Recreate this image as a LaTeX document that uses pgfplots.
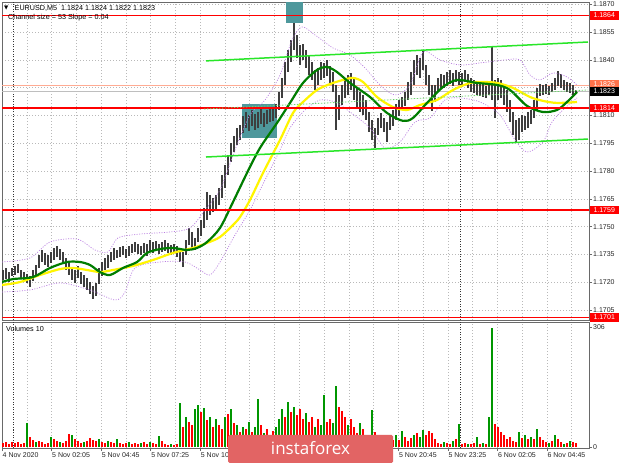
\documentclass[border=0pt]{standalone}
\usepackage{pgfplots}
\pgfplotsset{compat=1.18}
\usepackage{pgfplotstable}
\usepackage{fontspec}
\setmainfont{Liberation Sans}
\newfontfamily\symfont{DejaVu Sans}
\newfontfamily\wmfont{Open Sans}
\definecolor{gridc}{RGB}{185,185,185}
\definecolor{framec}{RGB}{105,105,105}
\definecolor{barc}{RGB}{62,62,62}
\definecolor{maG}{RGB}{0,125,0}
\definecolor{maY}{RGB}{255,245,0}
\definecolor{chan}{RGB}{40,230,40}
\definecolor{envc}{RGB}{185,125,225}
\definecolor{boxc}{RGB}{78,152,156}
\definecolor{salmonc}{RGB}{255,115,75}
\definecolor{bidc}{RGB}{190,190,190}
\definecolor{volG}{RGB}{0,150,0}
\definecolor{volR}{RGB}{255,0,0}
\definecolor{wmc}{RGB}{226,100,100}
\definecolor{midc}{RGB}{110,215,110}

\pgfplotstableread{
x h l
3 1.17266 1.17212
6 1.17277 1.17218
9 1.17256 1.17202
12 1.17277 1.17234
15 1.17288 1.17239
18 1.17299 1.17250
21 1.17266 1.17223
24 1.17256 1.17212
27 1.17245 1.17196
30 1.17234 1.17175
33 1.17266 1.17207
36 1.17293 1.17234
39 1.17347 1.17277
42 1.17374 1.17310
45 1.17358 1.17293
48 1.17347 1.17283
51 1.17364 1.17304
54 1.17385 1.17320
57 1.17396 1.17337
60 1.17380 1.17320
63 1.17364 1.17299
66 1.17331 1.17266
69 1.17310 1.17239
72 1.17277 1.17212
75 1.17266 1.17196
78 1.17288 1.17223
81 1.17256 1.17191
84 1.17239 1.17175
87 1.17223 1.17158
90 1.17202 1.17137
93 1.17180 1.17110
96 1.17196 1.17126
99 1.17277 1.17191
102 1.17310 1.17234
105 1.17331 1.17266
108 1.17347 1.17277
111 1.17364 1.17310
114 1.17385 1.17320
117 1.17374 1.17331
120 1.17391 1.17337
123 1.17396 1.17347
126 1.17380 1.17331
129 1.17396 1.17342
132 1.17407 1.17358
135 1.17418 1.17364
138 1.17407 1.17353
141 1.17396 1.17347
144 1.17412 1.17358
147 1.17407 1.17342
150 1.17428 1.17364
153 1.17418 1.17358
156 1.17423 1.17369
159 1.17407 1.17353
162 1.17418 1.17364
165 1.17428 1.17369
168 1.17412 1.17358
171 1.17401 1.17347
174 1.17407 1.17358
177 1.17396 1.17337
180 1.17380 1.17310
183 1.17364 1.17283
186 1.17428 1.17347
189 1.17493 1.17401
192 1.17471 1.17385
195 1.17439 1.17374
198 1.17493 1.17418
201 1.17536 1.17450
204 1.17601 1.17493
207 1.17688 1.17536
210 1.17671 1.17563
213 1.17655 1.17580
216 1.17671 1.17590
219 1.17709 1.17617
222 1.17779 1.17655
225 1.17833 1.17709
228 1.17887 1.17779
231 1.17952 1.17850
234 1.17990 1.17904
237 1.18033 1.17941
240 1.18049 1.17968
243 1.18098 1.18006
246 1.18120 1.18033
249 1.18103 1.18017
252 1.18130 1.18044
255 1.18109 1.18022
258 1.18120 1.18033
261 1.18136 1.18055
264 1.18114 1.18039
267 1.18130 1.18055
270 1.18141 1.18066
273 1.18136 1.18071
276 1.18163 1.18087
279 1.18228 1.18130
282 1.18303 1.18195
285 1.18390 1.18265
288 1.18454 1.18336
291 1.18508 1.18390
294 1.18600 1.18454
297 1.18535 1.18411
300 1.18481 1.18373
303 1.18487 1.18400
306 1.18454 1.18357
309 1.18427 1.18319
312 1.18390 1.18292
315 1.18346 1.18238
318 1.18357 1.18265
321 1.18390 1.18292
324 1.18384 1.18303
327 1.18400 1.18314
330 1.18368 1.18271
333 1.18336 1.18228
336 1.18265 1.18022
339 1.18211 1.18076
342 1.18265 1.18157
345 1.18292 1.18195
348 1.18319 1.18211
351 1.18330 1.18238
354 1.18303 1.18184
357 1.18249 1.18141
360 1.18228 1.18120
363 1.18211 1.18103
366 1.18184 1.18076
369 1.18120 1.18012
372 1.18076 1.17968
375 1.18033 1.17925
378 1.18087 1.17995
381 1.18114 1.18033
384 1.18087 1.18012
387 1.18066 1.17958
390 1.18103 1.18022
393 1.18130 1.18044
396 1.18163 1.18076
399 1.18184 1.18098
402 1.18201 1.18130
405 1.18228 1.18152
408 1.18282 1.18184
411 1.18336 1.18211
414 1.18400 1.18265
417 1.18427 1.18319
420 1.18411 1.18303
423 1.18454 1.18346
426 1.18373 1.18265
429 1.18319 1.18211
432 1.18265 1.18125
435 1.18265 1.18174
438 1.18303 1.18228
441 1.18325 1.18249
444 1.18319 1.18249
447 1.18336 1.18260
450 1.18346 1.18271
453 1.18330 1.18260
456 1.18346 1.18282
459 1.18336 1.18265
462 1.18330 1.18255
465 1.18346 1.18282
468 1.18325 1.18249
471 1.18303 1.18228
474 1.18292 1.18222
477 1.18282 1.18211
480 1.18271 1.18206
483 1.18276 1.18201
486 1.18260 1.18195
489 1.18282 1.18211
492 1.18471 1.18184
495 1.18292 1.18087
498 1.18303 1.18184
501 1.18292 1.18195
504 1.18265 1.18157
507 1.18238 1.18120
510 1.18184 1.18066
513 1.18120 1.17995
516 1.18076 1.17958
519 1.18087 1.17968
522 1.18103 1.18012
525 1.18098 1.18022
528 1.18120 1.18033
531 1.18130 1.18055
534 1.18184 1.18087
537 1.18249 1.18130
540 1.18271 1.18206
543 1.18265 1.18211
546 1.18271 1.18217
549 1.18260 1.18211
552 1.18276 1.18228
555 1.18303 1.18238
558 1.18341 1.18260
561 1.18325 1.18249
564 1.18292 1.18238
567 1.18282 1.18228
570 1.18276 1.18222
573 1.18265 1.18211
576 1.18240 1.18220
}\bars

\pgfplotsset{
 mtpane/.style={
  anchor=south west, at={(0pt,0pt)}, scale only axis, width=587pt,
  xmin=2, xmax=589,
  axis line style={framec, line width=0.8pt},
  clip mode=individual,
  xtick={2,51.5,101.1,150.6,200.2,249.7,299.2,348.8,398.3,447.9,497.4,546.9},
  minor xtick={26.8,76.3,125.9,175.4,224.9,274.5,324,373.6,423.1,472.6,522.2,571.7},
  xmajorgrids, xminorgrids,
  major grid style={gridc, line width=0.5pt, dash pattern=on 1pt off 2pt},
  minor grid style={gridc, line width=0.5pt, dash pattern=on 1pt off 2pt},
  ytick pos=right, yticklabel pos=right, xtick pos=bottom,
  tick align=outside, major tick length=3pt, minor tick length=0pt,
  tick style={framec, line width=0.6pt},
  ticklabel style={font=\fontsize{7}{8}\selectfont, text=black!85},
  yticklabel style={anchor=west, inner sep=1pt},
 },
}
\tikzset{lbl/.style={anchor=west, text=white, inner sep=0pt, minimum width=29pt, minimum height=8.5pt, font=\fontsize{7}{8}\selectfont}}

\begin{document}
\begin{tikzpicture}
\path[use as bounding box] (0pt,0pt) rectangle (620pt,465pt);
\fill[white] (0pt,0pt) rectangle (620pt,465pt);

% ---------------- price pane
\begin{scope}[shift={(2pt,145pt)}]
\begin{axis}[mtpane, height=318pt, ymin=1.16996, ymax=1.18713,
 ytick={1.1705,1.1720,1.1735,1.1750,1.1765,1.1780,1.1795,1.1810,1.1825,1.1840,1.1855,1.1870},
 yticklabels={1.1705,1.1720,1.1735,1.1750,1.1765,1.1780,1.1795,1.1810,{},1.1840,1.1855,1.1870},
 ymajorgrids, xticklabels={}, xtick style={draw=none}]
 % day separators
 \addplot[black!80, line width=0.6pt, dash pattern=on 1pt off 1.5pt] coordinates {(13,1.16996) (13,1.18713)};
 \addplot[black!80, line width=0.6pt, dash pattern=on 1pt off 1.5pt] coordinates {(460,1.16996) (460,1.18713)};
 % rectangles
 \addplot[fill=boxc, draw=none] coordinates {(242,1.17979) (277,1.17979) (277,1.18162) (242,1.18162)} -- cycle;
 \addplot[fill=boxc, draw=none] coordinates {(286,1.18600) (303,1.18600) (303,1.18713) (286,1.18713)} -- cycle;
 % bid line and salmon level
 \addplot[bidc, line width=0.7pt] coordinates {(2,1.1823) (589,1.1823)};
 \addplot[salmonc!60!white, line width=0.9pt] coordinates {(2,1.1826) (589,1.1826)};
 % price bars
 \addplot[barc, line width=1.85pt, quiver={u=0, v=\thisrow{h}-\thisrow{l}}] table[x=x, y=l] {\bars};
 % envelopes
 \addplot[envc, line width=0.7pt, dash pattern=on 1pt off 1.5pt, smooth, tension=0.5] coordinates {
 (2,1.17309) (30,1.17331) (50,1.17417) (77,1.17433) (95,1.17374) (108,1.17363) (118,1.17439) (140,1.17460) (170,1.17471) (190,1.17493) (205,1.17590) (220,1.17698) (235,1.17914) (250,1.18103) (265,1.18184) (280,1.18319) (292,1.18508) (302,1.18578) (315,1.18535) (333,1.18465) (350,1.18427) (365,1.18357) (380,1.18265) (395,1.18211) (410,1.18265) (423,1.18443) (440,1.18400) (460,1.18373) (480,1.18384) (505,1.18400) (520,1.18400) (530,1.18319) (540,1.18292) (553,1.18330) (567,1.18308) (577,1.18265)};
 \addplot[envc, line width=0.7pt, dash pattern=on 1pt off 1.5pt, smooth, tension=0.5] coordinates {
 (2,1.17147) (30,1.17158) (60,1.17196) (90,1.17158) (115,1.17104) (125,1.17147) (135,1.17277) (160,1.17309) (185,1.17309) (200,1.17266) (210,1.17239) (220,1.17309) (235,1.17455) (250,1.17590) (265,1.17752) (280,1.17914) (290,1.18033) (305,1.18130) (320,1.18184) (335,1.18173) (350,1.18119) (370,1.18033) (385,1.17925) (400,1.17957) (415,1.18065) (430,1.18087) (445,1.18184) (460,1.18195) (480,1.18173) (500,1.18103) (515,1.17968) (527,1.17903) (543,1.17957) (552,1.18065) (565,1.18141) (577,1.18195)};
 % moving averages
 \addplot[maY, line width=2.2pt, smooth, tension=0.5] coordinates {
 (2,1.17185) (20,1.17201) (40,1.17239) (60,1.17271) (73,1.17277) (87,1.17266) (100,1.17255) (113,1.17266) (133,1.17288) (153,1.17320) (173,1.17358) (193,1.17385) (207,1.17412) (220,1.17444) (233,1.17509) (240,1.17552) (250,1.17644) (263,1.17790) (280,1.17968) (293,1.18114) (303,1.18173) (317,1.18238) (330,1.18270) (343,1.18292) (353,1.18303) (363,1.18281) (377,1.18200) (393,1.18146) (407,1.18130) (420,1.18157) (437,1.18184) (453,1.18238) (470,1.18276) (483,1.18281) (497,1.18276) (513,1.18249) (530,1.18200) (543,1.18179) (557,1.18168) (577,1.18173)};
 \addplot[maG, line width=2.2pt, smooth, tension=0.5] coordinates {
 (2,1.17201) (13,1.17217) (33,1.17228) (50,1.17277) (67,1.17309) (80,1.17309) (90,1.17293) (100,1.17255) (110,1.17239) (123,1.17277) (137,1.17309) (147,1.17358) (160,1.17379) (173,1.17385) (187,1.17374) (197,1.17385) (207,1.17417) (220,1.17493) (233,1.17633) (247,1.17790) (260,1.17925) (277,1.18060) (290,1.18168) (303,1.18276) (317,1.18346) (327,1.18362) (337,1.18335) (350,1.18276) (370,1.18200) (387,1.18114) (403,1.18071) (413,1.18087) (427,1.18168) (443,1.18254) (457,1.18292) (477,1.18276) (497,1.18265) (510,1.18238) (527,1.18152) (543,1.18119) (557,1.18130) (567,1.18173) (577,1.18227)};
 % horizontal levels
 \addplot[red, line width=1.3pt] coordinates {(2,1.1864) (589,1.1864)};
 \addplot[red, line width=1.3pt] coordinates {(2,1.1814) (589,1.1814)};
 \addplot[red, line width=1.3pt] coordinates {(2,1.1759) (589,1.1759)};
 \addplot[red, line width=1.3pt] coordinates {(2,1.1701) (589,1.1701)};
 % channel
 \addplot[chan, line width=1.5pt] coordinates {(206,1.18395) (588,1.18497)};
 \addplot[chan, line width=1.5pt] coordinates {(206,1.17876) (588,1.17973)};
 \addplot[midc, line width=0.8pt, dash pattern=on 1.5pt off 1.5pt] coordinates {(204,1.18135) (588,1.18238)};
 % right-hand price labels
 \node[lbl, fill=red] at (axis cs:589.5,1.1864) {1.1864};
 \node[lbl, fill=salmonc] at (axis cs:589.5,1.18268) {1.1826};
 \node[lbl, fill=black] at (axis cs:589.5,1.1823) {1.1823};
 \node[lbl, fill=red] at (axis cs:589.5,1.1814) {1.1814};
 \node[lbl, fill=red] at (axis cs:589.5,1.1759) {1.1759};
 \node[lbl, fill=red] at (axis cs:589.5,1.1701) {1.1701};
\end{axis}
\end{scope}

% ---------------- volume pane
\begin{scope}[shift={(2pt,17pt)}]
\begin{axis}[mtpane, height=126pt, ymin=-2.5, ymax=319,
 ytick={0,306}, yticklabels={0,306},
 xticklabels={4 Nov 2020,5 Nov 02:05,5 Nov 04:45,5 Nov 07:25,5 Nov 10:05,5 Nov 12:45,5 Nov 15:25,5 Nov 18:05,5 Nov 20:45,5 Nov 23:25,6 Nov 02:05,6 Nov 04:45},
 xticklabel style={anchor=north west, inner sep=1pt, xshift=-0.5pt}]
 \addplot[black!80, line width=0.6pt, dash pattern=on 1pt off 1.5pt] coordinates {(13,-2.5) (13,319)};
 \addplot[black!80, line width=0.6pt, dash pattern=on 1pt off 1.5pt] coordinates {(460,-2.5) (460,319)};
 \addplot[volG, ycomb, line width=2.1pt] coordinates {
 (27,62) (36,13) (51,26) (60,13) (72,31) (84,13) (99,21) (108,15) (117,20) (129,13) (141,10) (150,13) (159,28) (171,8) (180,113) (186,77) (195,98) (198,108) (204,100) (210,77) (216,72) (225,77) (231,98) (237,56) (243,51) (249,64) (255,51) (258,123) (264,36) (270,31) (276,51) (279,72) (282,97) (288,115) (294,102) (306,87) (315,51) (321,56) (324,133) (333,62) (336,156) (348,56) (360,62) (369,26) (372,95) (378,20) (387,15) (396,31) (402,41) (414,31) (420,26) (423,44) (444,13) (453,15) (459,59) (468,8) (477,26) (483,10) (489,77) (492,303) (519,38) (525,31) (531,26) (537,46) (549,10) (555,31) (564,8) (570,15)};
 \addplot[volR, ycomb, line width=2.1pt] coordinates {
 (3,10) (6,12) (9,8) (12,14) (15,10) (18,12) (21,8) (24,11) (30,26) (33,18) (39,15) (42,13) (45,8) (48,10) (54,21) (57,15) (63,10) (66,15) (69,33) (75,21) (78,15) (81,10) (87,15) (90,23) (93,18) (96,15) (102,13) (105,10) (111,13) (114,10) (120,10) (123,8) (126,10) (132,8) (135,10) (138,8) (144,13) (147,8) (153,10) (156,8) (162,15) (165,8) (168,5) (174,5) (177,8) (183,51) (189,64) (192,56) (201,90) (207,69) (213,51) (219,56) (222,46) (228,85) (234,62) (240,38) (246,46) (252,38) (261,56) (267,46) (273,41) (285,77) (291,90) (297,82) (300,97) (303,72) (309,64) (312,77) (318,72) (327,64) (330,72) (339,102) (342,92) (345,77) (351,72) (354,51) (357,36) (363,46) (366,31) (375,38) (381,26) (384,20) (390,20) (393,18) (399,18) (405,26) (408,15) (411,23) (417,36) (426,31) (429,41) (432,36) (435,20) (438,10) (441,8) (447,10) (450,8) (456,20) (462,8) (465,10) (471,8) (474,10) (480,8) (486,8) (495,59) (498,51) (501,38) (504,31) (507,20) (510,26) (513,15) (516,13) (522,23) (528,20) (534,20) (540,26) (543,18) (546,13) (552,15) (558,20) (561,13) (567,10) (573,13) (576,10)};
\end{axis}
\end{scope}

% ---------------- texts
\node[anchor=west, inner sep=0pt, font=\symfont\fontsize{5.5}{6}\selectfont] at (4pt,457pt) {▼};
\node[anchor=west, inner sep=0pt, font=\fontsize{7.2}{8}\selectfont] at (14.5pt,457pt) {EURUSD,M5\ \ 1.1824 1.1824 1.1822 1.1823};
\node[anchor=west, inner sep=0pt, font=\fontsize{7.2}{8}\selectfont] at (8pt,447pt) {Channel size = 53 Slope = 0.04};
\node[anchor=west, inner sep=0pt, font=\fontsize{7.2}{8}\selectfont] at (6pt,136pt) {Volumes 10};

% watermark
\fill[wmc, rounded corners=1.5pt] (228pt,2pt) rectangle (393pt,30pt);
\node[text=white, font=\wmfont\fontsize{17}{18}\selectfont, inner sep=0pt] at (310.5pt,17pt) {instaforex};
\end{tikzpicture}
\end{document}
